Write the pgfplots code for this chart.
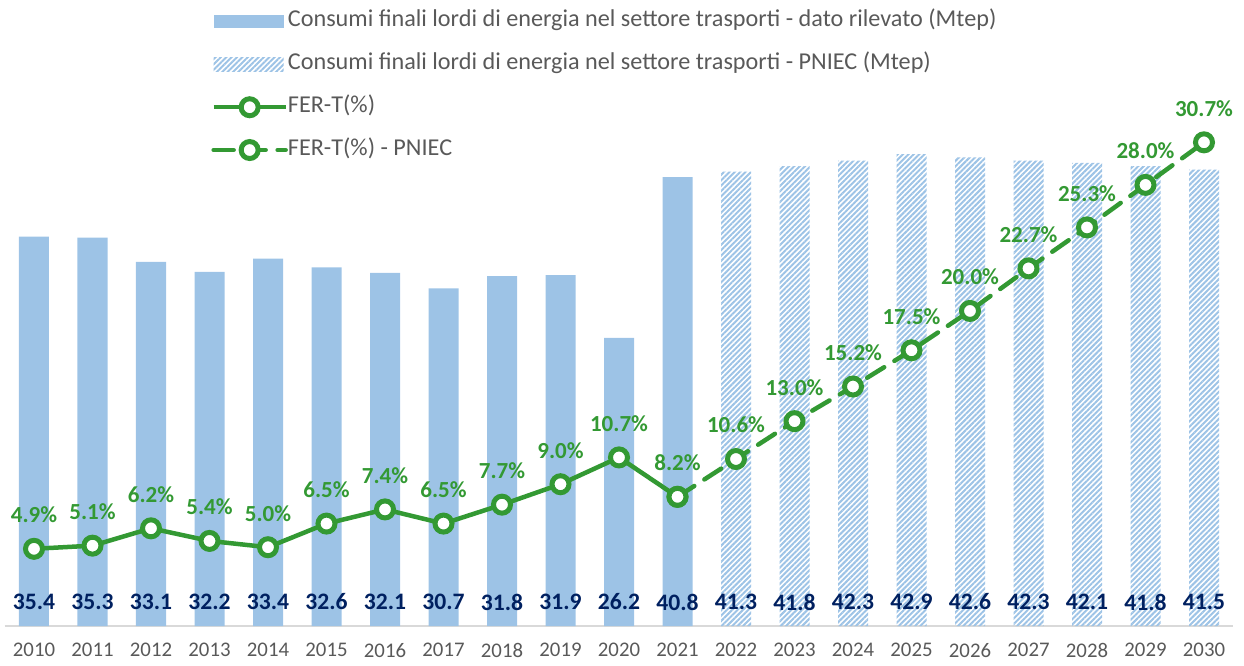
\documentclass[border=0pt]{standalone}
\usepackage{fontspec}
\setmainfont{Carlito}
\usepackage{pgfplots}
\pgfplotsset{compat=1.18}
\usepackage{pgfplotstable}
\usetikzlibrary{patterns.meta}

\definecolor{barblue}{HTML}{9DC3E6}
\definecolor{fergreen}{HTML}{339933}
\definecolor{navy}{HTML}{002060}
\definecolor{txtgray}{HTML}{595959}
\definecolor{axgray}{HTML}{D9D9D9}

% x = posizione, mtep = consumi trasporti, fer = FER-T (%)
\pgfplotstableread{
x year mtep fer
0 2010 35.4 4.9
1 2011 35.3 5.1
2 2012 33.1 6.2
3 2013 32.2 5.4
4 2014 33.4 5.0
5 2015 32.6 6.5
6 2016 32.1 7.4
7 2017 30.7 6.5
8 2018 31.8 7.7
9 2019 31.9 9.0
10 2020 26.2 10.7
11 2021 40.8 8.2
12 2022 41.3 10.6
13 2023 41.8 13.0
14 2024 42.3 15.2
15 2025 42.9 17.5
16 2026 42.6 20.0
17 2027 42.3 22.7
18 2028 42.1 25.3
19 2029 41.8 28.0
20 2030 41.5 30.7
}\data

\tikzset{hatch/.style={pattern={Lines[angle=45,distance=1.9pt,line width=1pt]}, pattern color=barblue}}
\pgfplotsset{
  base/.style={scale only axis, width=614.25pt, height=308pt,
    xmin=-0.5, xmax=20.5, ymin=0, clip=false,
    /pgf/number format/assume math mode=true},
  ferline/.style={color=fergreen, line width=2.25pt, mark=*, mark size=4.25pt,
    mark options={solid, fill=white, draw=fergreen, line width=2.5pt}},
}

\begin{document}
\begin{tikzpicture}
\path[use as bounding box] (-2.375pt,-19.5pt) rectangle (619.625pt,313pt);

% barre: consumi finali lordi (Mtep)
\begin{axis}[base, ymax=56,
    axis x line=bottom, axis y line=none,
    axis line style={axgray, line width=1pt, -},
    xtick={0,...,20}, xticklabels from table={\data}{year},
    ytick=\empty, major tick length=0pt,
    xticklabel style={inner sep=0pt, yshift=-8.5pt, text=txtgray,
      font=\fontsize{10.4}{12}\selectfont},
]
\addplot[ybar, bar width=15pt, bar shift=0pt, fill=barblue, draw=none,
  restrict x to domain=0:11] table[x=x, y=mtep]{\data};
\addplot[ybar, bar width=15pt, bar shift=0pt, hatch, draw=none,
  restrict x to domain=12:20] table[x=x, y=mtep]{\data};
\addplot[draw=none, mark=none, point meta=explicit,
  nodes near coords={\pgfmathprintnumber[fixed,fixed zerofill,precision=1]{\pgfplotspointmeta}},
  every node near coord/.append style={anchor=center, yshift=12pt, inner sep=0pt,
    text=navy, font=\bfseries\fontsize{11.8}{12}\selectfont}]
  table[x=x, y expr=0, meta=mtep]{\data};
\end{axis}

% linea: FER-T (%)
\begin{axis}[base, ymax=39.1, axis lines=none, ticks=none,
    legend cell align=left,
    legend image code/.code={\draw[mark repeat=2,mark phase=2,#1] plot coordinates {(0pt,0pt) (18pt,0pt) (36pt,0pt)};},
    legend style={at={(rel axis cs:0.1679,0.998)}, anchor=north west,
      draw=none, fill=none, inner sep=0pt, row sep=11.4pt, text=txtgray,
      font=\fontsize{12.1}{14}\selectfont,
      nodes={inner sep=0pt, text height=7.5pt, text depth=2.5pt},
      /tikz/every even column/.append style={column sep=3pt}},
]
\addlegendimage{legend image code/.code={\path[fill=barblue, draw=none] (0pt,-3.3pt) rectangle (35pt,3.3pt);}}
\addlegendentry{Consumi finali lordi di energia nel settore trasporti - dato rilevato (Mtep)}
\addlegendimage{legend image code/.code={\path[hatch, draw=none] (0pt,-3.3pt) rectangle (35pt,3.3pt);}}
\addlegendentry{Consumi finali lordi di energia nel settore trasporti - PNIEC (Mtep)}
\addplot[ferline, restrict x to domain=0:11] table[x=x, y=fer]{\data};
\addlegendentry{FER-T(\%)}
\addplot[ferline, dash pattern=on 10pt off 6pt, line cap=round,
  restrict x to domain=11:20] table[x=x, y=fer]{\data};
\addlegendentry{FER-T(\%) - PNIEC}
\addplot[draw=none, mark=none, point meta=explicit,
  nodes near coords={\pgfmathprintnumber[fixed,fixed zerofill,precision=1]{\pgfplotspointmeta}\%},
  every node near coord/.append style={anchor=center, yshift=17pt, inner sep=0pt,
    text=fergreen, font=\bfseries\fontsize{11.5}{12}\selectfont}]
  table[x=x, y=fer, meta=fer]{\data};
\end{axis}
\end{tikzpicture}
\end{document}
